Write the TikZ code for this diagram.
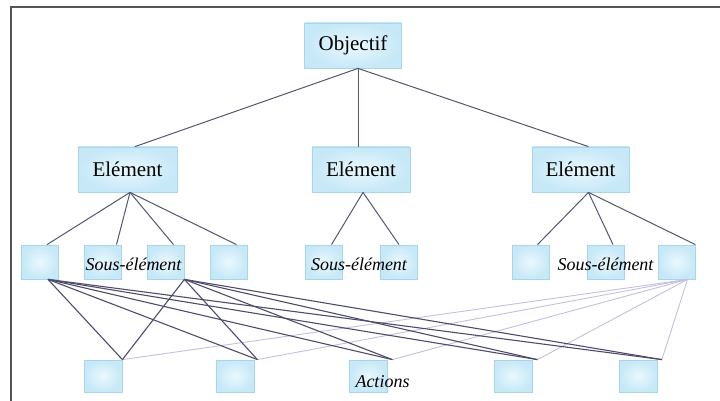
\documentclass[tikz,border=0pt]{standalone}
\usepackage{fontspec}
\setmainfont{Liberation Serif}
\usetikzlibrary{calc}
\definecolor{boxin}{HTML}{EAF8FE}
\definecolor{boxout}{HTML}{C6E8F7}
\definecolor{boxline}{HTML}{A6D6EC}
\definecolor{treeline}{HTML}{55556F}
\definecolor{darkline}{HTML}{4D4D6B}
\definecolor{lightline}{HTML}{C4BFDC}
\definecolor{framecol}{HTML}{555555}
\tikzset{
  bluebox/.style={rectangle, draw=boxline, line width=0.8pt, inner color=boxin, outer color=boxout, inner sep=0pt},
  bigbox/.style={bluebox, minimum height=45pt, font=\fontsize{21}{24}\selectfont},
  subbox/.style={bluebox, minimum width=37pt, minimum height=34pt},
  actbox/.style={bluebox, minimum width=38pt, minimum height=32pt},
  itlabel/.style={anchor=base, inner sep=0pt, font=\fontsize{18}{20}\selectfont\itshape},
  tree/.style={draw=treeline, line width=1pt},
  dk/.style={draw=darkline, line width=1.1pt},
  lt/.style={draw=lightline, line width=0.9pt},
}
\begin{document}
\begin{tikzpicture}[x=1pt, y=-1pt]
\useasboundingbox (0,0) rectangle (720,401);
\draw[framecol, line width=2pt] (10.5,401) -- (10.5,7.5) -- (720,7.5);

% top level
\node[bigbox, minimum width=97pt] (obj) at (353,45.5) {Objectif};
\node[bigbox, minimum width=99pt] (e1) at (127.5,169.5) {Elément};
\node[bigbox, minimum width=98pt] (e2) at (361,169.5) {Elément};
\node[bigbox, minimum width=97pt] (e3) at (580.5,169.5) {Elément};

% sub elements
\node[subbox] (s1) at (40,262) {};
\node[subbox] (s2) at (102.5,262) {};
\node[subbox] (s3) at (165.5,262) {};
\node[subbox] (s4) at (228.5,262) {};
\node[subbox] (s5) at (323.5,262) {};
\node[subbox] (s6) at (399,262) {};
\node[subbox] (s7) at (530.5,262) {};
\node[subbox] (s8) at (606,262) {};
\node[subbox] (s9) at (676.5,262) {};

% actions
\node[actbox] (a1) at (103,376) {};
\node[actbox] (a2) at (235,376) {};
\node[actbox] (a3) at (368,376) {};
\node[actbox] (a4) at (513,376) {};
\node[actbox] (a5) at (638.5,376) {};

% tree connectors
\draw[tree] ([xshift=5pt]obj.south) -- ([xshift=7.5pt]e1.north);
\draw[tree] ([xshift=5pt]obj.south) -- ([xshift=-3pt]e2.north);
\draw[tree] ([xshift=5pt]obj.south) -- ([xshift=8pt]e3.north);

\draw[tree] ([xshift=2.5pt]e1.south) -- ([xshift=7pt]s1.north);
\draw[tree] ([xshift=2.5pt]e1.south) -- ([xshift=14pt]s2.north);
\draw[tree] ([xshift=2.5pt]e1.south) -- ([xshift=8pt]s3.north);
\draw[tree] ([xshift=2.5pt]e1.south) -- ([xshift=8pt]s4.north);
\draw[tree] ([xshift=2pt]e2.south) -- ([xshift=8pt]s5.north);
\draw[tree] ([xshift=2pt]e2.south) -- (s6.north);
\draw[tree] ([xshift=8pt]e3.south) -- ([xshift=7pt]s7.north);
\draw[tree] ([xshift=8pt]e3.south) -- ([xshift=7pt]s8.north);
\draw[tree] ([xshift=8pt]e3.south) -- (s9.north east);

% light connectors from s9
\foreach \a/\d in {a1/0, a2/3, a3/5, a4/5, a5/4}{
  \draw[lt] ([xshift=11pt]s9.south) -- ([xshift=\d pt]\a.north east);
}
% dark connectors from s1 and s3
\foreach \a/\d in {a1/0, a2/3, a3/5, a4/5, a5/4}{
  \draw[dk] ([xshift=8pt]s1.south) -- ([xshift=\d pt]\a.north east);
  \draw[dk] (s3.south east) -- ([xshift=\d pt]\a.north east);
}

% labels
\node[itlabel] (l1) at (133.5,270) {Sous-élément};
\node[itlabel] (l2) at (359,270) {Sous-élément};
\node[itlabel] (l3) at (605.5,270) {Sous-élément};
\node[itlabel] (l4) at (382.5,387) {Actions};
\end{tikzpicture}
\end{document}
